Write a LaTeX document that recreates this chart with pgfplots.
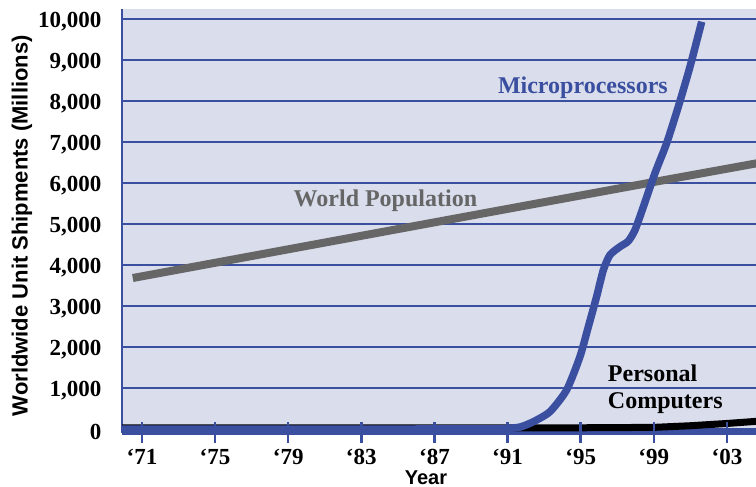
\documentclass[border=0pt]{standalone}
\usepackage{fontspec}
\setmainfont{Liberation Serif}
\newfontfamily\sansf{Liberation Sans}
\usepackage{pgfplots}
\pgfplotsset{compat=1.18}
\definecolor{bgc}{RGB}{217,221,236}
\definecolor{blu}{RGB}{59,79,160}
\definecolor{gry}{RGB}{102,102,102}

\pgfplotstableread{
x y
1969 0
1985 0
1990 5
1991 15
1991.7 50
1992.41 178
1993.32 423
1994.23 951
1994.96 1764
1995.42 2496
1995.87 3228
1996.24 3878
1996.6 4244
1997.15 4447
1997.6 4580
1997.97 4854
1998.43 5422
1999.06 6236
1999.7 6968
2000.34 7861
2000.98 8837
2001.62 9934
}\micro
\pgfplotstableread{
x y
1970.5 3683
1980 4465
1990 5287
2000 6106
2005 6510
}\pop
\pgfplotstableread{
x y
1969 25
1991 25
1995 30
1999 40
2001 80
2003 135
2005 200
}\pc

\begin{document}
\begin{tikzpicture}
\begin{axis}[
 name=ax,
 set layers=standard,
 scale only axis, width=634bp, height=423.5bp,
 xmin=1969.91, xmax=2004.59, ymin=-85, ymax=10244,
 axis x line=bottom, axis y line=left,
 axis line style={draw=blu, -},
 x axis line style={line width=4bp},
 y axis line style={line width=2.5bp},
 axis background/.style={fill=bgc},
 xtick={1971,1975,...,2003},
 xticklabels={‘71,‘75,‘79,‘83,‘87,‘91,‘95,‘99,‘03},
 tick align=center,
 major tick length=21bp,
 x tick style={draw=blu, line width=2.5bp, /pgfplots/on layer=axis foreground},
 ytick={0,1000,...,10000},
 yticklabels={0,{1,000},{2,000},{3,000},{4,000},{5,000},{6,000},{7,000},{8,000},{9,000},{10,000}},
 y tick style={draw=none},
 ymajorgrids, grid style={draw=blu, line width=1.4bp},
 ticklabel style={font=\fontsize{23bp}{23bp}\selectfont\bfseries},
 yticklabel style={anchor=east, inner sep=0pt, xshift=-10bp, yshift=-3bp},
 xticklabel style={anchor=north, inner sep=0pt, yshift=-6bp},
 xlabel={Year},
 ylabel={Worldwide Unit Shipments (Millions)},
 every axis x label/.style={at={([yshift=-45bp]axis description cs:0.4795,0)}, anchor=center, font=\sansf\bfseries\fontsize{20bp}{20bp}\selectfont},
 every axis y label/.style={at={([xshift=-100bp,yshift=-5bp]axis description cs:0,0.5)}, rotate=90, anchor=center, font=\sansf\bfseries\fontsize{22bp}{22bp}\selectfont},
]
\addplot[black, line width=7bp, line join=round] table[x=x,y=y] {\pc};
\addplot[gry, line width=8bp] table[x=x,y=y] {\pop};
\addplot[blu, line width=7.5bp, smooth, tension=0.4, line join=round] table[x=x,y=y] {\micro};
\node[anchor=base, inner sep=0pt, text=blu, font=\bfseries\fontsize{24bp}{24bp}\selectfont] at (axis cs:1995.12,8188) {Microprocessors};
\node[anchor=base, inner sep=0pt, text=gry, font=\bfseries\fontsize{24bp}{24bp}\selectfont] at (axis cs:1984.32,5422) {World Population};
\node[anchor=base west, inner sep=0pt, font=\bfseries\fontsize{24bp}{24bp}\selectfont] at (axis cs:1996.48,1154) {Personal};
\node[anchor=base west, inner sep=0pt, font=\bfseries\fontsize{24bp}{24bp}\selectfont] at (axis cs:1996.48,505) {Computers};
\end{axis}
\pgfresetboundingbox
\path[use as bounding box] ([xshift=-122bp,yshift=-54.5bp]ax.south west) rectangle ([xshift=634bp,yshift=432.5bp]ax.south west);
\end{tikzpicture}
\end{document}
